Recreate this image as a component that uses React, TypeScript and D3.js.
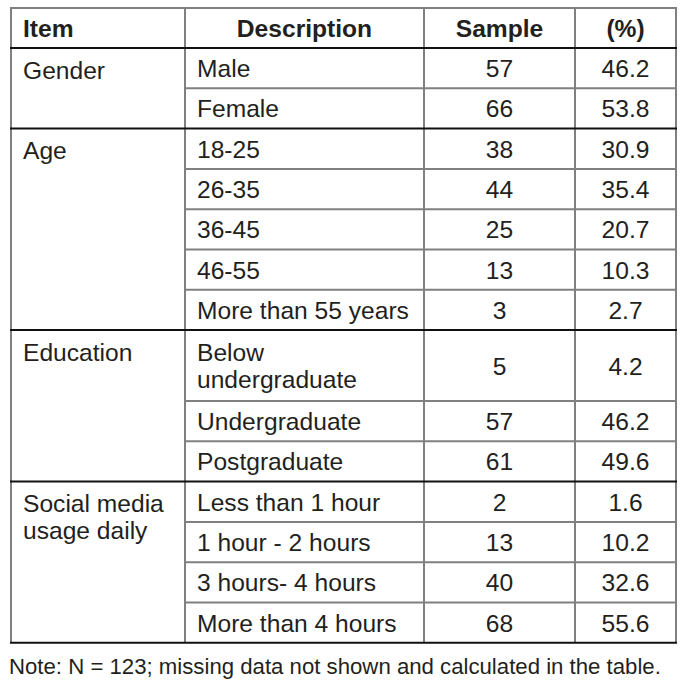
import React, { useEffect, useRef } from 'react';
import * as d3 from 'd3';

const headers = ['Item', 'Description', 'Sample', '(%)'];
const groups = ['Gender', 'Age', 'Education', 'Social media usage daily'];
const groupSizes = [2, 5, 3, 4];
const descriptions = [
  'Male', 'Female',
  '18-25', '26-35', '36-45', '46-55', 'More than 55 years',
  'Below undergraduate', 'Undergraduate', 'Postgraduate',
  'Less than 1 hour', '1 hour - 2 hours', '3 hours- 4 hours', 'More than 4 hours',
];
const samples = [57, 66, 38, 44, 25, 13, 3, 5, 57, 61, 2, 13, 40, 68];
const percents = ['46.2', '53.8', '30.9', '35.4', '20.7', '10.3', '2.7', '4.2', '46.2', '49.6', '1.6', '10.2', '32.6', '55.6'];
const note = 'Note: N = 123; missing data not shown and calculated in the table.';

const FONT = '"Liberation Sans", Arial, Helvetica, sans-serif';
const TEXT = '#231f20';
const GRAY = '#808080';

const App = () => {
  const svgRef = useRef<SVGSVGElement>(null);

  useEffect(() => {
    const width = 696;
    const height = 686;
    const fontSize = 24.6;
    const pad = 12;
    const cols = [11, 185, 424, 575, 676];
    const top = 8;
    const headerH = 40;
    const rowH = 40.3;
    const extraLine = 30.6;
    const lineGap = 27;

    const svg = d3.select(svgRef.current).attr('width', width).attr('height', height);
    svg.selectAll('*').remove();

    const ctx = document.createElement('canvas').getContext('2d')!;
    ctx.font = `${fontSize}px ${FONT}`;
    const wrap = (s: string, w: number) => {
      const words = s.split(' ');
      const lines: string[] = [];
      let cur = '';
      words.forEach((word) => {
        const t = cur ? cur + ' ' + word : word;
        if (cur && ctx.measureText(t).width > w) {
          lines.push(cur);
          cur = word;
        } else cur = t;
      });
      lines.push(cur);
      return lines;
    };

    const descLines = descriptions.map((d) => wrap(d, cols[2] - cols[1] - 20));
    const heights = descLines.map((l) => rowH + (l.length - 1) * extraLine);
    const rowTop: number[] = [];
    let acc = top + headerH;
    heights.forEach((h) => {
      rowTop.push(acc);
      acc += h;
    });
    const bottom = acc;

    const g = svg.append('g').attr('font-family', FONT).attr('font-size', fontSize).attr('fill', TEXT);

    // header
    const colCenter = (i: number) => (cols[i] + cols[i + 1]) / 2;
    headers.forEach((h, i) => {
      g.append('text')
        .attr('x', i === 0 ? cols[0] + pad : colCenter(i))
        .attr('y', top + 29)
        .attr('text-anchor', i === 0 ? 'start' : 'middle')
        .attr('font-weight', 'bold')
        .text(h);
    });

    // rows
    descriptions.forEach((_, i) => {
      const y0 = rowTop[i];
      const h = heights[i];
      const lines = descLines[i];
      const firstBase = y0 + h / 2 + 9 - ((lines.length - 1) * lineGap) / 2;
      lines.forEach((l, k) => {
        g.append('text').attr('x', cols[1] + pad).attr('y', firstBase + k * lineGap).text(l);
      });
      g.append('text').attr('x', colCenter(2)).attr('y', y0 + h / 2 + 9).attr('text-anchor', 'middle').text(samples[i]);
      g.append('text').attr('x', colCenter(3)).attr('y', y0 + h / 2 + 9).attr('text-anchor', 'middle').text(percents[i]);
    });

    // groups
    let start = 0;
    const groupTops: number[] = [];
    groups.forEach((name, gi) => {
      const y0 = rowTop[start];
      groupTops.push(y0);
      wrap(name, cols[1] - cols[0] - 2 * pad).forEach((l, k) => {
        g.append('text').attr('x', cols[0] + pad).attr('y', y0 + 30.5 + k * lineGap).text(l);
      });
      start += groupSizes[gi];
    });

    const lines = svg.append('g').attr('fill', 'none');

    // inner row lines (gray), only in description..percent columns
    let idx = 0;
    groupSizes.forEach((n) => {
      for (let k = 1; k < n; k++) {
        const y = rowTop[idx + k];
        lines.append('line').attr('x1', cols[1]).attr('x2', cols[4]).attr('y1', y).attr('y2', y).attr('stroke', GRAY).attr('stroke-width', 2);
      }
      idx += n;
    });

    // top border
    lines.append('line').attr('x1', cols[0] - 1).attr('x2', cols[4] + 1).attr('y1', top).attr('y2', top).attr('stroke', GRAY).attr('stroke-width', 2);

    // verticals
    cols.forEach((x) => {
      lines.append('line').attr('x1', x).attr('x2', x).attr('y1', top).attr('y2', bottom).attr('stroke', GRAY).attr('stroke-width', 2);
    });

    // group separators (black)
    [top + headerH, ...groupTops.slice(1), bottom].forEach((y) => {
      lines.append('line').attr('x1', cols[0] - 1).attr('x2', cols[4] + 1).attr('y1', y).attr('y2', y).attr('stroke', '#111').attr('stroke-width', 2);
    });

    // note
    svg.append('text')
      .attr('x', 9)
      .attr('y', 674)
      .attr('font-family', FONT)
      .attr('font-size', 22.2)
      .attr('fill', TEXT)
      .text(note);
  }, []);

  return (
    <div>
      <svg ref={svgRef} style={{ position: 'absolute', left: 0, top: 0, display: 'block', background: '#fff' }}></svg>
    </div>
  );
};

export default App;
